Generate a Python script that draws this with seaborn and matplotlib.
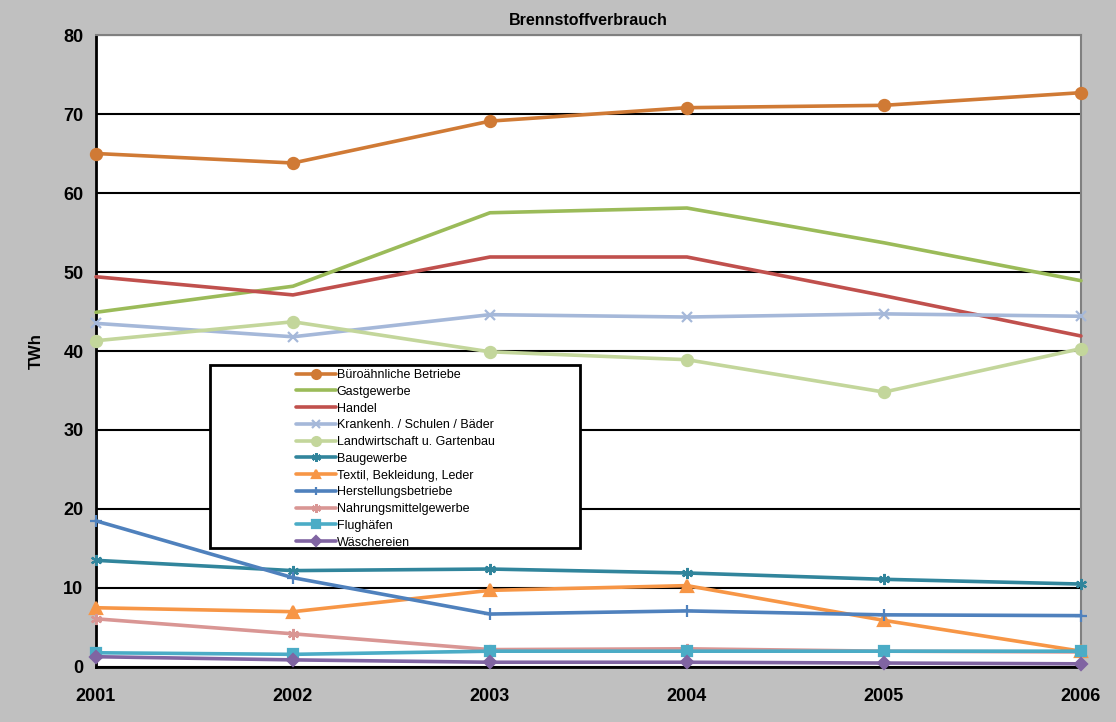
import pandas as pd
import matplotlib.pyplot as plt
import seaborn as sns
from matplotlib.patches import Rectangle

# data (TWh)
years = [2001, 2002, 2003, 2004, 2005, 2006]
series_names = [
    "Büroähnliche Betriebe", "Gastgewerbe", "Handel",
    "Krankenh. / Schulen / Bäder", "Landwirtschaft u. Gartenbau",
    "Baugewerbe", "Textil, Bekleidung, Leder", "Herstellungsbetriebe",
    "Nahrungsmittelgewerbe", "Flughäfen", "Wäschereien",
]
buero = [65.0, 63.8, 69.1, 70.8, 71.1, 72.7]
gast = [44.9, 48.2, 57.5, 58.1, 53.7, 48.9]
handel = [49.4, 47.1, 51.9, 51.9, 47.0, 41.9]
kranken = [43.5, 41.8, 44.6, 44.3, 44.7, 44.4]
landw = [41.3, 43.7, 39.9, 38.9, 34.8, 40.3]
bau = [13.5, 12.2, 12.4, 11.9, 11.1, 10.5]
textil = [7.5, 7.0, 9.7, 10.3, 5.9, 2.0]
herst = [18.5, 11.3, 6.7, 7.1, 6.6, 6.5]
nahrung = [6.1, 4.2, 2.2, 2.3, 2.0, 1.9]
flug = [1.8, 1.6, 2.0, 2.0, 2.0, 2.0]
waesch = [1.3, 0.9, 0.6, 0.6, 0.5, 0.4]
values = [buero, gast, handel, kranken, landw, bau, textil, herst, nahrung, flug, waesch]

colors = ["#d07a35", "#9bbb59", "#c0504d", "#a5b8d9", "#c3d69b", "#31859c",
          "#f79646", "#4f81bd", "#d99694", "#4bacc6", "#8064a2"]
asterisk = (6, 2, 0)
markers = ["o", "", "", "x", "o", asterisk, "^", "+", asterisk, "s", "D"]
msizes = [8, 0, 0, 7, 8, 8, 8, 8, 8, 7, 6]

rows = []
for name, vals in zip(series_names, values):
    for y, v in zip(years, vals):
        rows.append({"Jahr": y, "TWh": v, "Sektor": name})
df = pd.DataFrame(rows)

sns.set_style("white")
plt.rcParams["font.family"] = ["Liberation Sans", "DejaVu Sans"]
plt.rcParams["text.color"] = "black"
plt.rcParams["xtick.color"] = "black"
plt.rcParams["ytick.color"] = "black"
plt.rcParams["axes.labelcolor"] = "black"

fig = plt.figure(figsize=(11.16, 7.22), dpi=100, facecolor="#c0c0c0")
ax = fig.add_axes([0.086, 0.0762, 0.8826, 0.8753])
ax.set_facecolor("white")

for name, col, mk, ms in zip(series_names, colors, markers, msizes):
    sub = df[df["Sektor"] == name]
    sns.lineplot(data=sub, x="Jahr", y="TWh", ax=ax, color=col, linewidth=2.6,
                 marker=mk if mk else None, markersize=ms, markeredgecolor=col,
                 markeredgewidth=1.6, label=name, clip_on=False, zorder=3)

ax.set_xlim(2001, 2006)
ax.set_ylim(0, 80)
ax.set_xticks(years)
ax.set_yticks(range(0, 81, 10))
ax.yaxis.grid(True, color="black", linewidth=1.5)
ax.set_axisbelow(True)
ax.tick_params(axis="both", direction="out", length=5, width=1.5, colors="black",
               labelsize=13, pad=4)
ax.tick_params(axis="x", pad=10)
for lbl in ax.get_xticklabels() + ax.get_yticklabels():
    lbl.set_fontweight("bold")
for side in ["left", "bottom"]:
    ax.spines[side].set_color("black")
    ax.spines[side].set_linewidth(2)
for side in ["top", "right"]:
    ax.spines[side].set_color("#808080")
    ax.spines[side].set_linewidth(1.5)

ax.set_xlabel("")
ax.set_ylabel("TWh", fontsize=12, fontweight="bold", labelpad=14)
ax.set_title("Brennstoffverbrauch", fontsize=11.5, fontweight="bold", pad=7)

# legend box like the original
box = (0.188, 0.241, 0.332, 0.253)
fig.patches.append(Rectangle((box[0], box[1]), box[2], box[3], transform=fig.transFigure,
                             facecolor="white", edgecolor="black", linewidth=2, zorder=5))
ax.get_legend().remove()
handles, labels = ax.get_legend_handles_labels()
leg = fig.legend(handles, labels, loc="center",
                 bbox_to_anchor=(box[0] + box[2] / 2, box[1] + box[3] / 2 - 0.003),
                 frameon=False, fontsize=9, handlelength=3.2, handletextpad=0.1,
                 labelspacing=0.38, markerscale=0.8)
leg.set_zorder(6)

fig.savefig("out.png", dpi=100, facecolor=fig.get_facecolor())
